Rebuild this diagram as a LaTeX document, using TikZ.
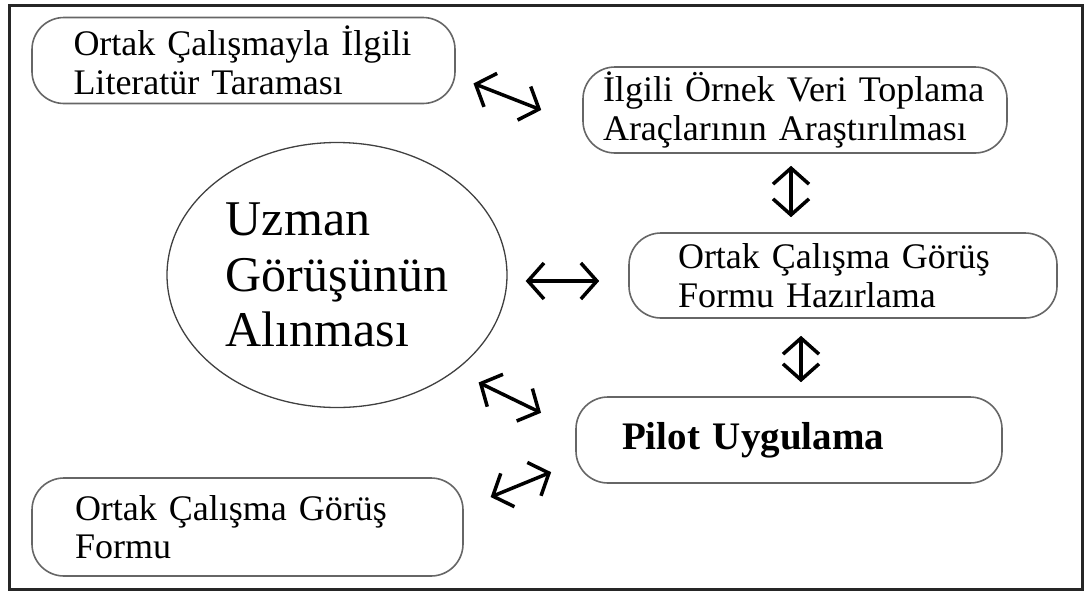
\documentclass[tikz,border=0pt]{standalone}
\usepackage{fontspec}
\setmainfont{Liberation Serif}
\usetikzlibrary{positioning,arrows.meta,shapes.geometric}

\begin{document}
\begin{tikzpicture}[
            x=1pt, y=-1pt,
            block/.style={rectangle, rounded corners=32pt, draw=black!60, line width=1.6pt, minimum height=86pt, inner sep=0pt, align=left, font=\fontsize{36}{38.5}\selectfont},
            bubble/.style={ellipse, draw=black!75, line width=1.3pt, minimum width=340pt, minimum height=265pt, inner sep=0pt, align=left, font=\fontsize{50}{55.5}\selectfont},
            link/.style={{Straight Barb[length=16pt,width=36pt,line width=3.5pt]}-{Straight Barb[length=16pt,width=36pt,line width=3.5pt]}, line width=3.5pt}
        ]
        \useasboundingbox (0,0) rectangle (1086,592);
        \draw[line width=3pt, black!85] (9,5) rectangle (1082,589);
        \node[bubble] (uzman) at (337,275) {Uzman\\Görüşünün\\Alınması};
        \node[block, minimum width=423pt, text width=340pt] (lit) at (243.5,60.5) {Ortak Çalışmayla İlgili\\Literatür Taraması};
        \node[block, minimum width=424pt, text width=384pt] (arac) at (795,110) {İlgili Örnek Veri Toplama\\Araçlarının Araştırılması};
        \node[block, minimum width=428pt, minimum height=85pt, text width=330pt] (form) at (843,275.5) {Ortak Çalışma Görüş\\Formu Hazırlama};
        \node[block, minimum width=426pt, text width=334pt, font=\fontsize{39}{42}\selectfont\bfseries] (pilot) at (789,440) {Pilot Uygulama};
        \node[block, minimum width=431pt, minimum height=98pt, text width=345pt] (formu) at (247.5,527) {Ortak Çalışma Görüş\\Formu};
        \draw[link, shorten <=19pt, shorten >=44pt] ([yshift=-16pt]lit.east) -- ([yshift=-16pt]arac.west);
        \draw[link, shorten <=12pt, shorten >=15pt] ([xshift=-4pt]arac.south) -- ([xshift=-52pt]form.north);
        \draw[link, shorten <=18pt, shorten >=29pt] ([yshift=-6pt]uzman.east) -- ([yshift=-5.5pt]form.west);
        \draw[link, shorten <=17pt, shorten >=14pt] ([xshift=-42pt]form.south) -- ([xshift=12pt]pilot.north);
        \draw[link, shorten <=21pt, shorten >=38pt] ([yshift=-5.8pt]uzman.-37) -- ([yshift=10.6pt]pilot.west);
        \draw[link, shorten <=29pt, shorten >=26pt] ([yshift=19pt]formu.east) -- ([yshift=-22.3pt]pilot.west);
\end{tikzpicture}
\end{document}
